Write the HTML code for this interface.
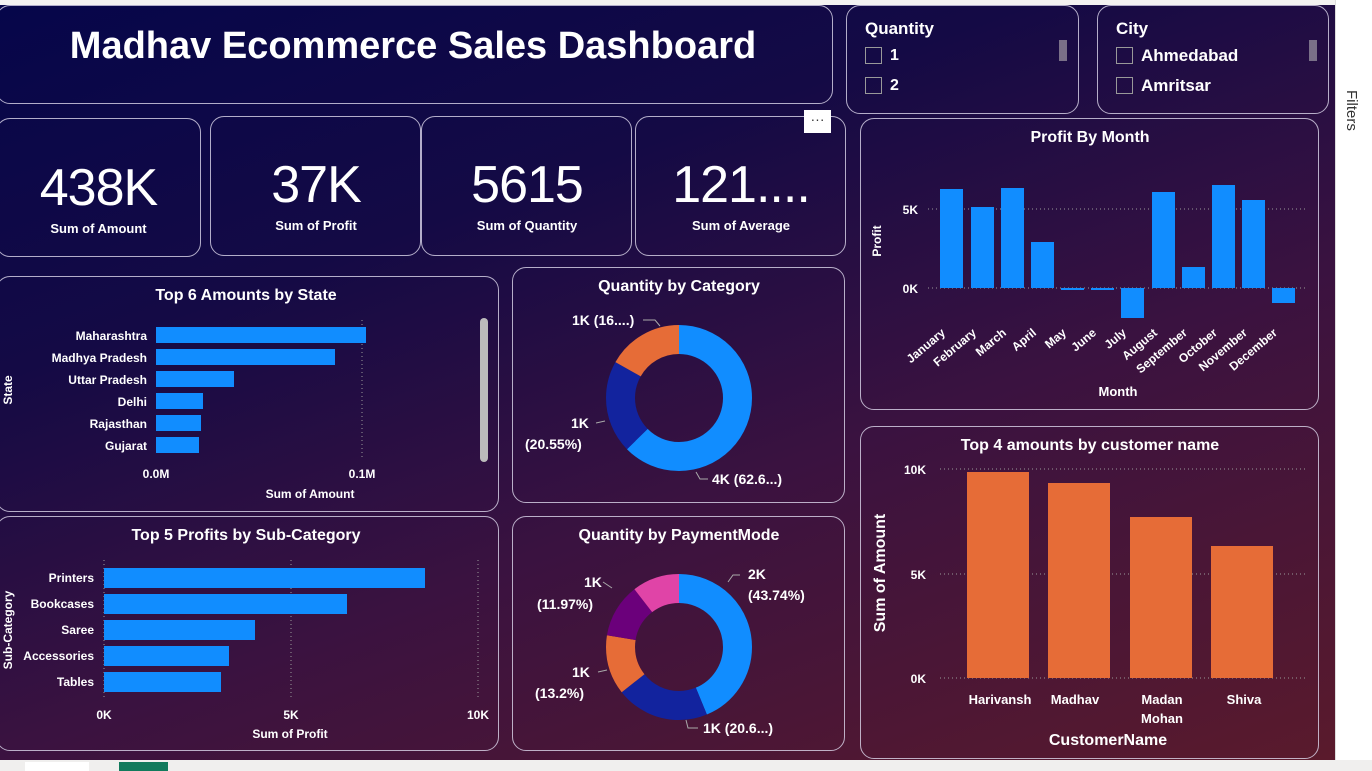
<!DOCTYPE html>
<html><head><meta charset="utf-8"><style>
html,body{margin:0;padding:0;}
body{width:1372px;height:771px;overflow:hidden;position:relative;background:#fff;font-family:"Liberation Sans",sans-serif;}
#bg{position:absolute;left:0;top:5px;width:1335px;height:755px;background:linear-gradient(160deg,#06064a 0%,#140a45 30%,#3a1240 60%,#5a1a2c 100%);}
.p{position:absolute;border:1.5px solid rgba(220,215,235,0.8);border-radius:14px;box-sizing:border-box;}
.t{position:absolute;color:#fff;font-weight:bold;white-space:nowrap;}
.k{font-size:52px;font-weight:normal;letter-spacing:-1px;}
svg{position:absolute;left:0;top:0;}
</style></head><body>
<div id="bg"></div>
<div style="position:absolute;left:0;top:0;width:1372px;height:5px;background:#f3f2f1;"></div>
<div style="position:absolute;left:1335px;top:0;width:37px;height:771px;background:#fff;border-left:1px solid #ddd;"></div>
<div style="position:absolute;left:0;top:760px;width:1372px;height:11px;background:#f0efee;"></div>
<div style="position:absolute;left:25px;top:762px;width:64px;height:9px;background:#fff;"></div>
<div style="position:absolute;left:119px;top:762px;width:49px;height:9px;background:#127a5c;"></div>
<div class="t" style="left:1360px;top:90px;color:#333;font-weight:normal;font-size:15px;transform:rotate(90deg);transform-origin:0 0;">Filters</div>

<div class="p" style="left:-4px;top:5px;width:837px;height:99px;"></div>
<div class="t" style="left:0;width:826px;text-align:center;top:25px;font-size:38px;">Madhav Ecommerce Sales Dashboard</div>

<div class="p" style="left:846px;top:5px;width:233px;height:109px;"></div>
<div class="t" style="left:865px;top:19px;font-size:17px;">Quantity</div>
<div style="position:absolute;left:865px;top:47px;width:15px;height:15px;border:1px solid #999;"></div>
<div class="t" style="left:890px;top:47px;font-size:16px;">1</div>
<div style="position:absolute;left:865px;top:77px;width:15px;height:15px;border:1px solid #999;"></div>
<div class="t" style="left:890px;top:77px;font-size:16px;">2</div>
<div style="position:absolute;left:1059px;top:40px;width:8px;height:21px;background:#7a7088;"></div>

<div class="p" style="left:1097px;top:5px;width:232px;height:109px;"></div>
<div class="t" style="left:1116px;top:19px;font-size:17px;">City</div>
<div style="position:absolute;left:1116px;top:47px;width:15px;height:15px;border:1px solid #999;"></div>
<div class="t" style="left:1141px;top:46px;font-size:17px;">Ahmedabad</div>
<div style="position:absolute;left:1116px;top:77px;width:15px;height:15px;border:1px solid #999;"></div>
<div class="t" style="left:1141px;top:76px;font-size:17px;">Amritsar</div>
<div style="position:absolute;left:1309px;top:40px;width:8px;height:21px;background:#7a7088;"></div>

<div class="p" style="left:-4px;top:118px;width:205px;height:139px;"></div>
<div class="p" style="left:210px;top:116px;width:211px;height:140px;"></div>
<div class="p" style="left:421px;top:116px;width:211px;height:140px;"></div>
<div class="p" style="left:635px;top:116px;width:211px;height:140px;"></div>
<div style="position:absolute;left:804px;top:110px;width:27px;height:23px;background:#fff;color:#333;font-size:14px;text-align:center;line-height:18px;">···</div>
<div class="t k" style="left:0;width:197px;text-align:center;top:158px;">438K</div>
<div class="t" style="left:0;width:197px;text-align:center;top:221px;font-size:13px;">Sum of Amount</div>
<div class="t k" style="left:212px;width:208px;text-align:center;top:155px;">37K</div>
<div class="t" style="left:212px;width:208px;text-align:center;top:218px;font-size:13px;">Sum of Profit</div>
<div class="t k" style="left:423px;width:208px;text-align:center;top:155px;">5615</div>
<div class="t" style="left:423px;width:208px;text-align:center;top:218px;font-size:13px;">Sum of Quantity</div>
<div class="t k" style="left:637px;width:208px;text-align:center;top:155px;">121....</div>
<div class="t" style="left:637px;width:208px;text-align:center;top:218px;font-size:13px;">Sum of Average</div>

<div class="p" style="left:-4px;top:276px;width:503px;height:236px;"></div>
<div class="p" style="left:512px;top:267px;width:333px;height:236px;"></div>
<div class="p" style="left:-4px;top:516px;width:503px;height:235px;"></div>
<div class="p" style="left:512px;top:516px;width:333px;height:235px;"></div>
<div class="p" style="left:860px;top:118px;width:459px;height:292px;"></div>
<div class="p" style="left:860px;top:426px;width:459px;height:333px;"></div>

<svg width="1372" height="771" font-family="Liberation Sans, sans-serif" font-weight="bold" fill="#fff">
<text x="246" y="300" font-size="16" text-anchor="middle" fill="#fff">Top 6 Amounts by State</text>
<line x1="362" y1="320" x2="362" y2="460" stroke="#999" stroke-dasharray="1,3"/>
<g fill="#118DFF">
<rect x="156" y="327" width="210" height="16"/><rect x="156" y="349" width="179" height="16"/>
<rect x="156" y="371" width="78" height="16"/><rect x="156" y="393" width="47" height="16"/>
<rect x="156" y="415" width="45" height="16"/><rect x="156" y="437" width="43" height="16"/></g>
<g font-size="12" text-anchor="end">
<text x="147" y="340">Maharashtra</text><text x="147" y="362">Madhya Pradesh</text><text x="147" y="384">Uttar Pradesh</text>
<text x="147" y="406">Delhi</text><text x="147" y="428">Rajasthan</text><text x="147" y="450">Gujarat</text></g>
<g font-size="12" text-anchor="middle"><text x="156" y="478">0.0M</text><text x="362" y="478">0.1M</text>
<text x="310" y="498">Sum of Amount</text></g>
<text x="12" y="390" font-size="12" text-anchor="middle" transform="rotate(-90 12 390)">State</text>
<rect x="480" y="318" width="8" height="144" rx="4" fill="#bbb"/>

<text x="246" y="540" font-size="16" text-anchor="middle">Top 5 Profits by Sub-Category</text>
<g stroke="#999" stroke-dasharray="1,3"><line x1="104" y1="560" x2="104" y2="700"/><line x1="291" y1="560" x2="291" y2="700"/><line x1="478" y1="560" x2="478" y2="700"/></g>
<g fill="#118DFF">
<rect x="104" y="568" width="321" height="20"/><rect x="104" y="594" width="243" height="20"/>
<rect x="104" y="620" width="151" height="20"/><rect x="104" y="646" width="125" height="20"/><rect x="104" y="672" width="117" height="20"/></g>
<g font-size="12" text-anchor="end">
<text x="94" y="582">Printers</text><text x="94" y="608">Bookcases</text><text x="94" y="634">Saree</text>
<text x="94" y="660">Accessories</text><text x="94" y="686">Tables</text></g>
<g font-size="12" text-anchor="middle"><text x="104" y="719">0K</text><text x="291" y="719">5K</text><text x="478" y="719">10K</text>
<text x="290" y="738">Sum of Profit</text></g>
<text x="12" y="630" font-size="12" text-anchor="middle" transform="rotate(-90 12 630)">Sub-Category</text>

<text x="679" y="291" font-size="16" text-anchor="middle">Quantity by Category</text>
<g transform="rotate(-90 679 398)" fill="none" stroke-width="29">
<circle cx="679" cy="398" r="58.5" stroke="#118DFF" stroke-dasharray="230.1 400"/>
<circle cx="679" cy="398" r="58.5" stroke="#12239E" stroke-dasharray="75.5 400" stroke-dashoffset="-230.1"/>
<circle cx="679" cy="398" r="58.5" stroke="#E66C37" stroke-dasharray="61.9 400" stroke-dashoffset="-305.6"/></g>
<g font-size="14">
<text x="572" y="325">1K (16....)</text><text x="571" y="428">1K</text><text x="525" y="449">(20.55%)</text><text x="712" y="484">4K (62.6...)</text></g>
<g stroke="#aaa" fill="none"><polyline points="643,320 655,320 660,326"/><polyline points="596,423 605,421"/><polyline points="708,479 700,479 696,472"/></g>

<text x="679" y="540" font-size="16" text-anchor="middle">Quantity by PaymentMode</text>
<g transform="rotate(-90 679 647)" fill="none" stroke-width="29">
<circle cx="679" cy="647" r="58.5" stroke="#118DFF" stroke-dasharray="160.8 400"/>
<circle cx="679" cy="647" r="58.5" stroke="#12239E" stroke-dasharray="75.7 400" stroke-dashoffset="-160.8"/>
<circle cx="679" cy="647" r="58.5" stroke="#E66C37" stroke-dasharray="48.5 400" stroke-dashoffset="-236.5"/>
<circle cx="679" cy="647" r="58.5" stroke="#6B007B" stroke-dasharray="44 400" stroke-dashoffset="-285"/>
<circle cx="679" cy="647" r="58.5" stroke="#E044A7" stroke-dasharray="38.6 400" stroke-dashoffset="-329"/></g>
<g font-size="14">
<text x="748" y="579">2K</text><text x="748" y="600">(43.74%)</text>
<text x="584" y="587">1K</text><text x="537" y="609">(11.97%)</text>
<text x="572" y="677">1K</text><text x="535" y="698">(13.2%)</text>
<text x="703" y="733">1K (20.6...)</text></g>
<g stroke="#aaa" fill="none"><polyline points="740,575 733,575 728,582"/><polyline points="603,582 612,588"/><polyline points="598,672 607,670"/><polyline points="698,728 688,728 686,720"/></g>

<text x="1090" y="142" font-size="16" text-anchor="middle">Profit By Month</text>
<g stroke="#999" stroke-dasharray="1,3"><line x1="928" y1="209" x2="1308" y2="209"/><line x1="928" y1="288" x2="1308" y2="288"/></g>
<g font-size="12" text-anchor="end"><text x="918" y="214">5K</text><text x="918" y="293">0K</text></g>
<text x="881" y="241" font-size="12" text-anchor="middle" transform="rotate(-90 881 241)">Profit</text>
<g fill="#118DFF">
<rect x="940" y="189" width="23" height="99"/><rect x="971" y="207" width="23" height="81"/>
<rect x="1001" y="188" width="23" height="100"/><rect x="1031" y="242" width="23" height="46"/>
<rect x="1061" y="288" width="23" height="2"/><rect x="1091" y="288" width="23" height="2"/>
<rect x="1121" y="288" width="23" height="30"/><rect x="1152" y="192" width="23" height="96"/>
<rect x="1182" y="267" width="23" height="21"/><rect x="1212" y="185" width="23" height="103"/>
<rect x="1242" y="200" width="23" height="88"/><rect x="1272" y="288" width="23" height="15"/></g>
<g font-size="12" text-anchor="end">
<text transform="translate(946,334) rotate(-40)">January</text>
<text transform="translate(977,334) rotate(-40)">February</text>
<text transform="translate(1007,334) rotate(-40)">March</text>
<text transform="translate(1037,334) rotate(-40)">April</text>
<text transform="translate(1067,334) rotate(-40)">May</text>
<text transform="translate(1097,334) rotate(-40)">June</text>
<text transform="translate(1127,334) rotate(-40)">July</text>
<text transform="translate(1158,334) rotate(-40)">August</text>
<text transform="translate(1188,334) rotate(-40)">September</text>
<text transform="translate(1218,334) rotate(-40)">October</text>
<text transform="translate(1248,334) rotate(-40)">November</text>
<text transform="translate(1278,334) rotate(-40)">December</text></g>
<text x="1118" y="396" font-size="13" text-anchor="middle">Month</text>

<text x="1090" y="450" font-size="16" text-anchor="middle">Top 4 amounts by customer name</text>
<g stroke="#999" stroke-dasharray="1,3"><line x1="940" y1="469" x2="1305" y2="469"/><line x1="940" y1="574" x2="1305" y2="574"/><line x1="940" y1="678" x2="1305" y2="678"/></g>
<g font-size="12" text-anchor="end"><text x="926" y="474">10K</text><text x="926" y="579">5K</text><text x="926" y="683">0K</text></g>
<text x="885" y="573" font-size="16" text-anchor="middle" transform="rotate(-90 885 573)">Sum of Amount</text>
<g fill="#E66C37">
<rect x="967" y="472" width="62" height="206"/><rect x="1048" y="483" width="62" height="195"/>
<rect x="1130" y="517" width="62" height="161"/><rect x="1211" y="546" width="62" height="132"/></g>
<g font-size="13" text-anchor="middle">
<text x="1000" y="704">Harivansh</text><text x="1075" y="704">Madhav</text>
<text x="1162" y="704">Madan</text><text x="1162" y="723">Mohan</text><text x="1244" y="704">Shiva</text></g>
<text x="1108" y="745" font-size="16" text-anchor="middle">CustomerName</text>
</svg>
</body></html>
